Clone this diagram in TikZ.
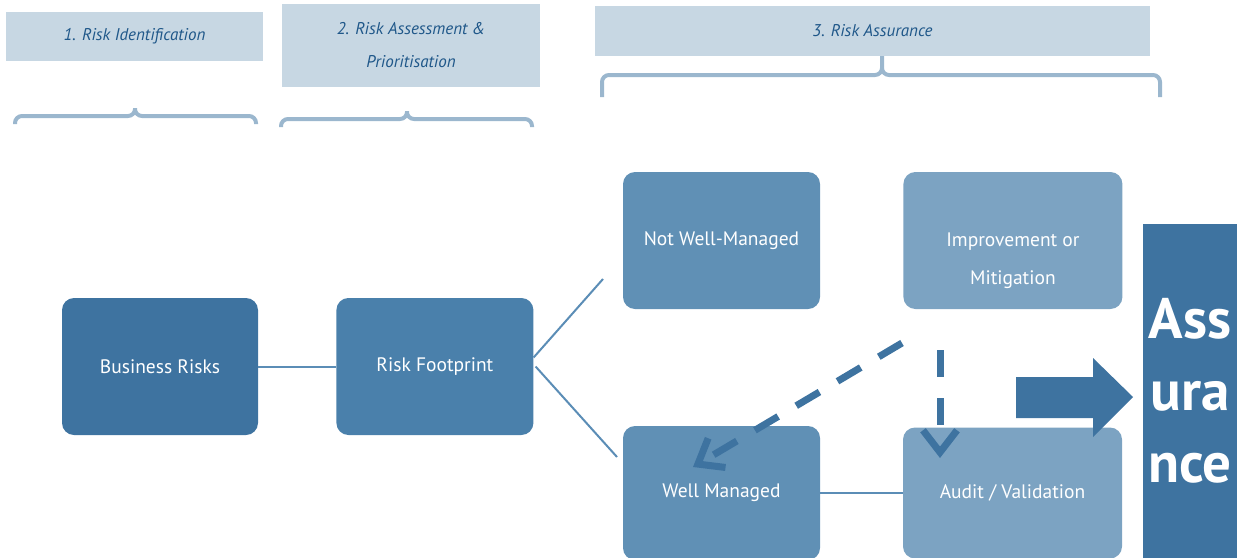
\documentclass[tikz,border=0pt]{standalone}
\usepackage{fontspec}
\setmainfont{PT Sans}
\usetikzlibrary{arrows.meta, positioning, calc}

\definecolor{deepblue}{HTML}{3E73A0}
\definecolor{footblue}{HTML}{4A80AB}
\definecolor{midblue}{HTML}{6090B5}
\definecolor{paleblue}{HTML}{7CA3C2}
\definecolor{linkcol}{HTML}{5B8DB6}
\definecolor{stagefill}{HTML}{C7D7E3}
\definecolor{stagetext}{HTML}{1F5789}
\definecolor{bracecol}{HTML}{9BB7CE}

\begin{document}
\begin{tikzpicture}[x=1pt, y=-1pt,
    stagebox/.style={rectangle, fill=stagefill, inner sep=0pt, text=stagetext, align=center, font=\itshape\fontsize{17}{33}\selectfont},
    riskbox/.style={rectangle, rounded corners=12pt, inner sep=0pt, text=white, align=center, font=\fontsize{19.5}{22}\selectfont},
    bracket/.style={draw=bracecol, line width=4pt, rounded corners=7pt},
    link/.style={draw=linkcol, line width=2pt},
    dashlink/.style={draw=deepblue, line width=7pt, dash pattern=on 27pt off 21pt, -{Straight Barb[length=22pt, width=34pt]}}
]
\useasboundingbox (0,0) rectangle (1237,557);

% stage headers
\node[stagebox, minimum width=257pt, minimum height=49pt] (ident) at (134.5,36.5) {1. Risk Identification};
\node[stagebox, minimum width=258pt, minimum height=83pt] (assess) at (411,45.5) {2. Risk Assessment \&\\Prioritisation};
\node[stagebox, minimum width=555pt, minimum height=50pt] (assur) at (872.5,31) {3. Risk Assurance};

\draw[bracket] (15,124) |- (135,116) -- (135,108) (256,124) |- (135,116) -- (135,108);
\draw[bracket] (281,127) |- (407,119) -- (407,111) (532,127) |- (407,119) -- (407,111);
\draw[bracket] (602,97) |- (882,75) -- (882,56) (1160,97) |- (882,75) -- (882,56);

% risk boxes
\node[riskbox, fill=deepblue, minimum width=196pt, minimum height=137pt] (busrisk) at (160,366.5) {Business Risks};
\node[riskbox, fill=footblue, minimum width=197pt, minimum height=137pt, right=78pt of busrisk] (footprint) {Risk Footprint};
\node[riskbox, fill=midblue, minimum width=197pt, minimum height=137pt] (notwell) at (721.5,240.5) {Not Well-Managed};
\node[riskbox, fill=paleblue, minimum width=219pt, minimum height=137pt, right=83pt of notwell] (improve)
    {\raisebox{-26pt}[0pt][0pt]{\begin{tabular}{@{}c@{}}Improvement or\\[16pt]Mitigation\end{tabular}}};
\node[riskbox, fill=midblue, minimum width=197pt, minimum height=134pt] (wellman) at (721.5,493) {Well Managed};
\node[riskbox, fill=paleblue, minimum width=219pt, minimum height=131pt] (audit) at (1012.5,493) {Audit / Validation};
\node[riskbox, fill=deepblue, rounded corners=0pt, minimum width=94pt, minimum height=334pt, font=\bfseries\fontsize{57}{72}\selectfont] (assure) at (1190,390.5) {Ass\\ura\\nce};

% connectors
\coordinate (upend) at (603,279);
\coordinate (lowend) at (617,457);
\draw[link] (busrisk) -- (footprint);
\draw[link] ($(footprint.east)+(0,-9)$) -- (upend);
\draw[link] ($(footprint.east)+(2,0)$) -- (lowend);
\draw[link] (wellman) -- (audit);

\coordinate (diagstart) at (902,343);
\coordinate (diagtip) at (693,467);
\coordinate (vertstart) at (940,350);
\coordinate (verttip) at (940,458);
\draw[dashlink] (diagstart) -- (diagtip);
\draw[dashlink] (vertstart) -- (verttip);

% block arrow into assurance
\fill[deepblue] (1016,377) -- (1093,377) -- (1093,358) -- (1133,397) -- (1093,437) -- (1093,418) -- (1016,418) -- cycle;
\end{tikzpicture}
\end{document}
